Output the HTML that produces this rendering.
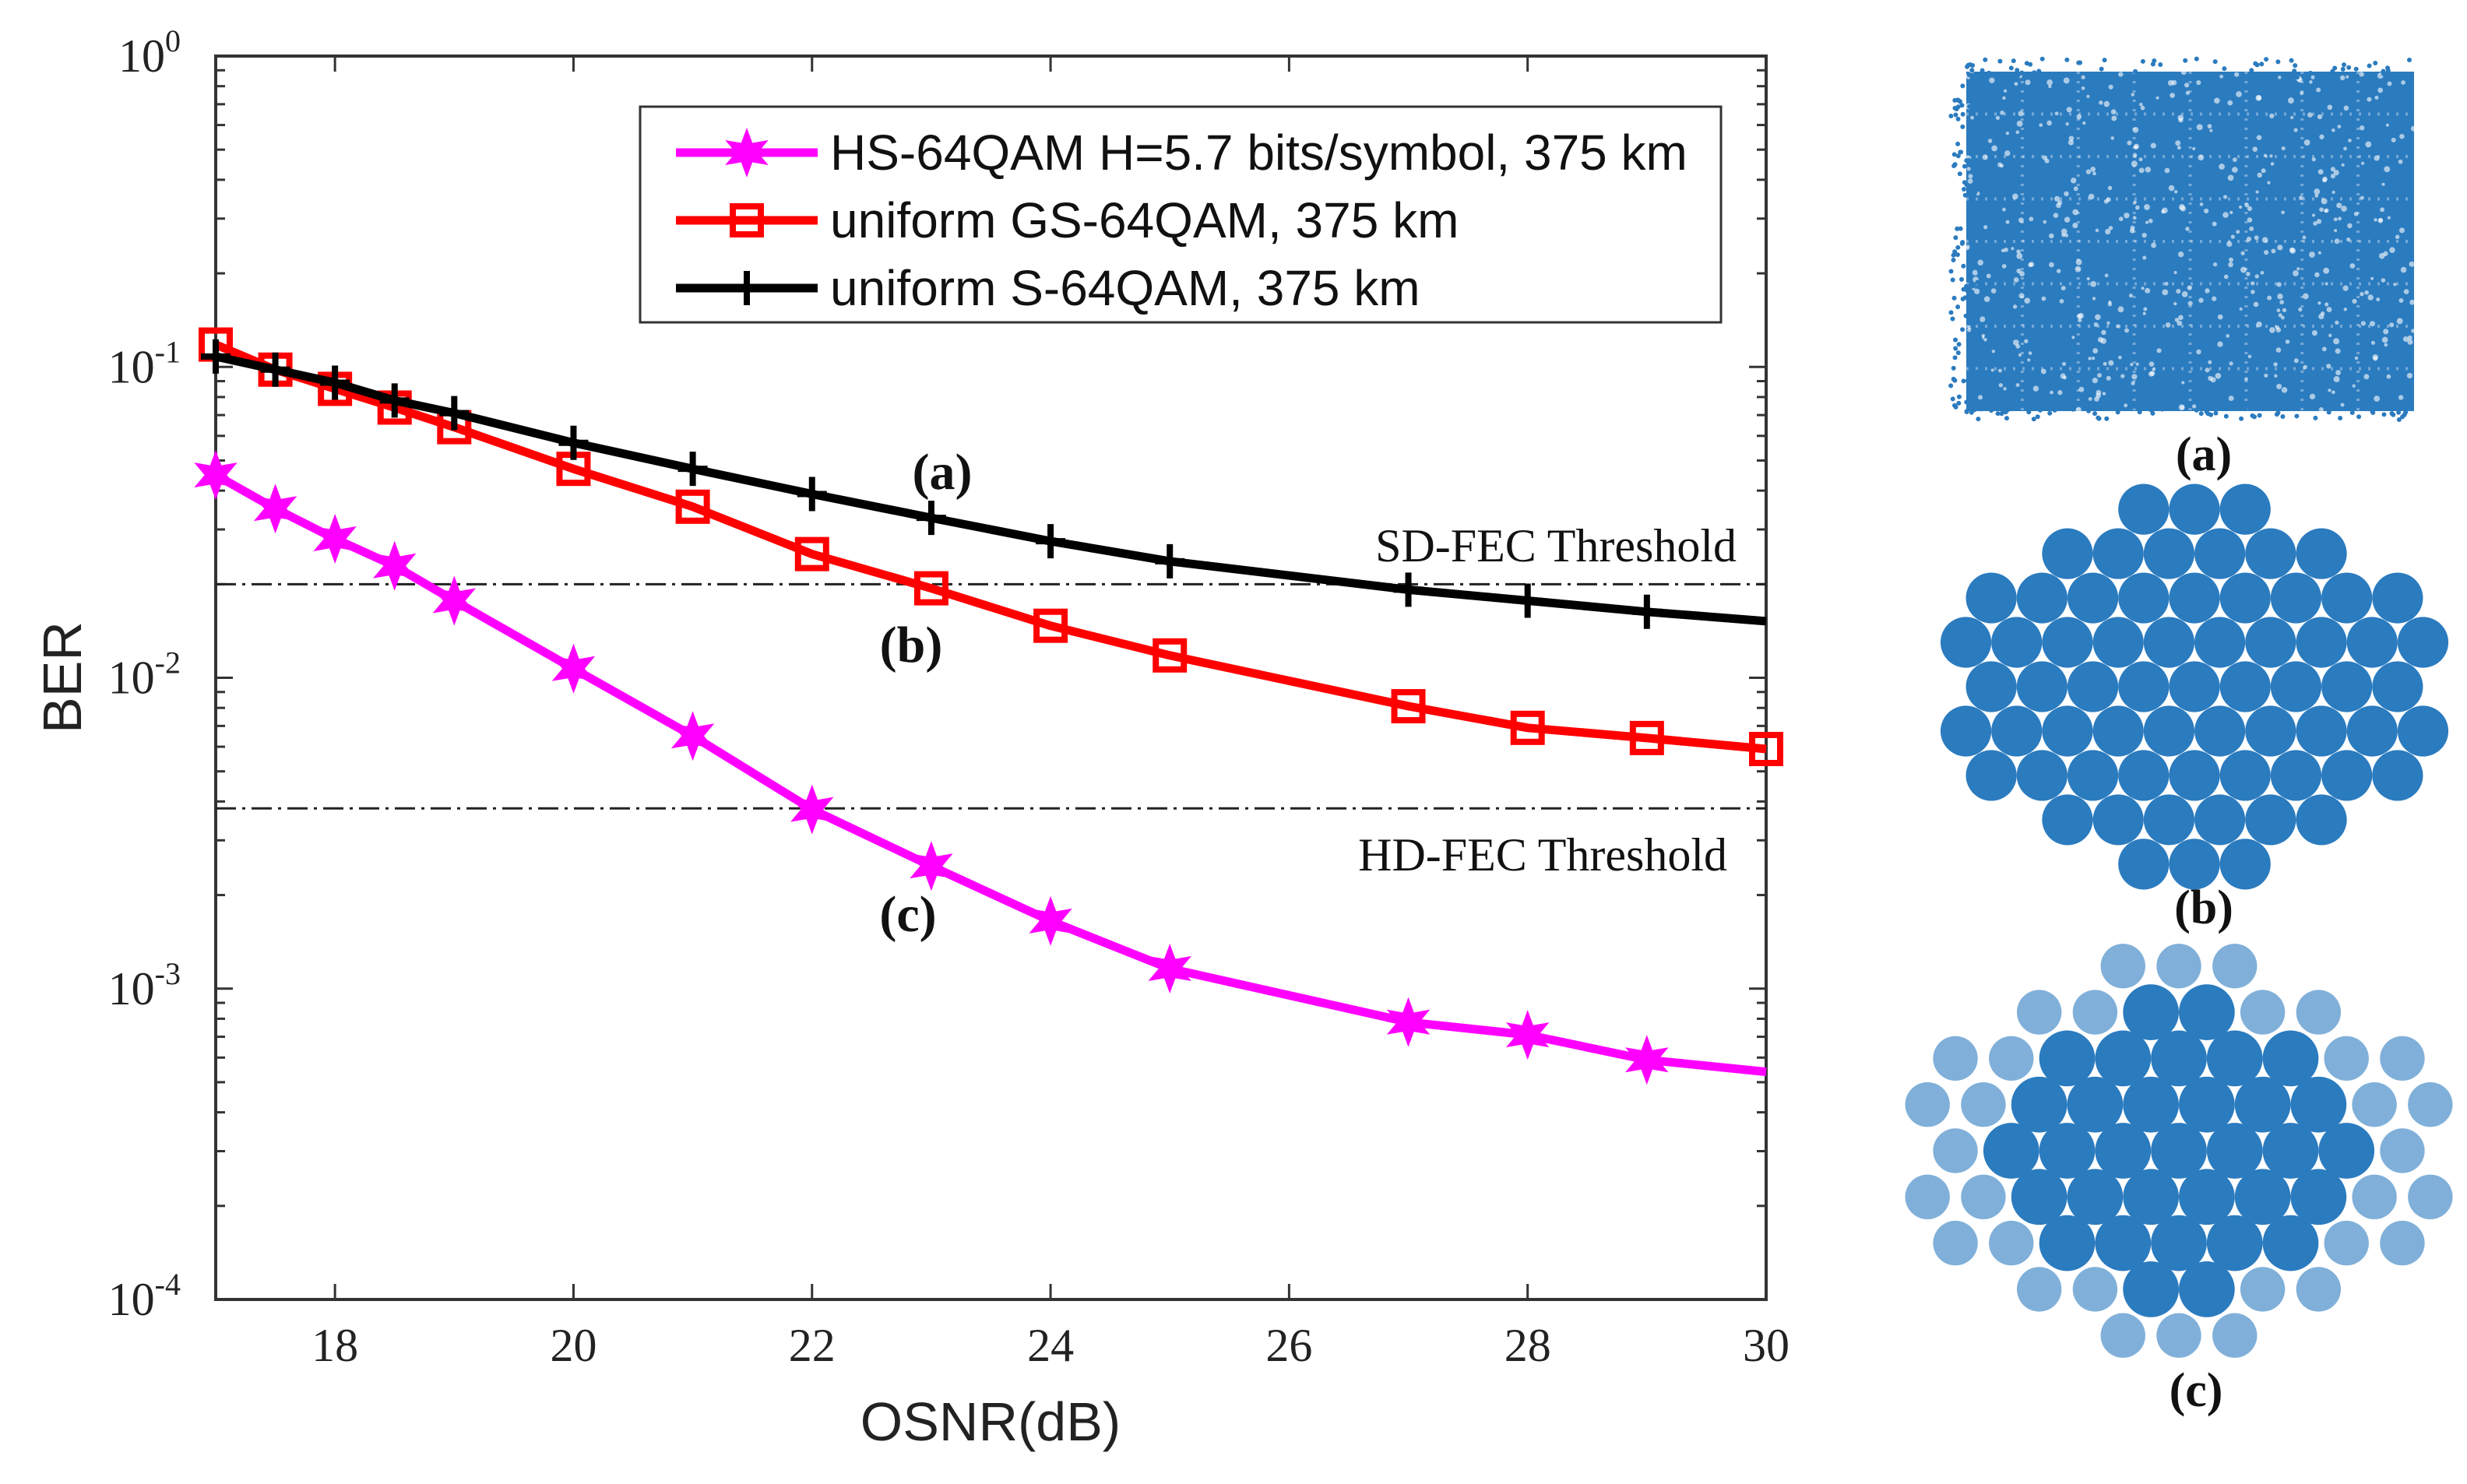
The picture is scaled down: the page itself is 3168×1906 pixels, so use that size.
<!DOCTYPE html>
<html><head><meta charset="utf-8"><style>
html,body{margin:0;padding:0;background:#fff;}
svg{display:block;}
</style></head><body>
<svg id="fig" width="3168" height="1906" viewBox="0 0 3168 1906" xmlns="http://www.w3.org/2000/svg">
<g id="chart"></g>
<g id="consts"></g>
</svg>
<script>
const osnr = [17,17.5,18,18.5,19,20,21,22,23,24,25,27,28,29,30];
const berHS = [0.0449,0.035,0.028,0.0229,0.0177,0.0107,0.0065,0.00377,0.00248,0.00165,0.00116,0.00078,0.00071,0.00059,0.00054];
const berGS = [0.118,0.098,0.085,0.074,0.064,0.047,0.0355,0.025,0.0194,0.0147,0.0118,0.0081,0.0069,0.0064,0.0059];
const berS = [0.108,0.098,0.089,0.078,0.071,0.057,0.047,0.039,0.0327,0.0275,0.0237,0.0192,0.0177,0.0163,0.0152];
const xTicks = [18,20,22,24,26,28,30];
const yDecades = [0,-1,-2,-3,-4];
const thresholds = [0.02,0.0038];

const NS='http://www.w3.org/2000/svg';
const L=277,R=2268,T=72,B=1669;
const X=v=>L+(v-17)/(30-17)*(R-L);
const Y=v=>T+(0-Math.log10(v))/4*(B-T);
function mk(tag,attrs,parent){const e=document.createElementNS(NS,tag);for(const k in attrs)e.setAttribute(k,attrs[k]);parent.appendChild(e);return e;}
const g=document.getElementById('chart');

const frame=mk('rect',{x:L,y:T,width:R-L,height:B-T,fill:'none',stroke:'#333',"stroke-width":4},g);



xTicks.forEach(t=>{
  const x=X(t);
  mk('line',{x1:x,y1:B,x2:x,y2:B-20,stroke:'#333','stroke-width':3},g);
  mk('line',{x1:x,y1:T,x2:x,y2:T+20,stroke:'#333','stroke-width':3},g);
  const tx=mk('text',{x:x,y:1748,'font-family':'Liberation Serif, serif','font-size':60,'text-anchor':'middle',fill:'#222'},g);
  tx.textContent=t;
  
  
});
yDecades.forEach(d=>{
  const y=Y(Math.pow(10,d));
  mk('line',{x1:L,y1:y,x2:L+22,y2:y,stroke:'#333','stroke-width':3},g);
  mk('line',{x1:R,y1:y,x2:R-22,y2:y,stroke:'#333','stroke-width':3},g);
  const tx=mk('text',{x:232,y:y+20,'font-family':'Liberation Serif, serif','font-size':60,'text-anchor':'end',fill:'#222'},g);
  tx.innerHTML='10<tspan dy="-26" font-size="40">'+d+'</tspan>';
  
  
  if(d>-4){for(let m=2;m<=9;m++){const ym=Y(m*Math.pow(10,d-1));
    mk('line',{x1:L,y1:ym,x2:L+12,y2:ym,stroke:'#333','stroke-width':3},g);
    mk('line',{x1:R,y1:ym,x2:R-12,y2:ym,stroke:'#333','stroke-width':3},g);}}
});
thresholds.forEach((v,i)=>{
  const ln=mk('line',{x1:L,y1:Y(v),x2:R,y2:Y(v),stroke:'#222','stroke-width':3,'stroke-dasharray':'26 8 4 8'},g);
  
  
});
function txt(s,x,y,attrs,name){const t=mk('text',Object.assign({'font-family':'Liberation Serif, serif',fill:'#111'},attrs),g);t.textContent=s;t.setAttribute('x',x);t.setAttribute('y',y);
  
  return t;}
txt('SD-FEC Threshold',2230,721,{'font-size':60,'text-anchor':'end'},'sd-fec-label');
txt('HD-FEC Threshold',2218,1118,{'font-size':60,'text-anchor':'end'},'hd-fec-label');
txt('(a)',1210,628,{'font-size':66,'font-weight':'bold','text-anchor':'middle'},'annotation-a');
txt('(b)',1170,850,{'font-size':66,'font-weight':'bold','text-anchor':'middle'},'annotation-b');
txt('(c)',1166,1196,{'font-size':66,'font-weight':'bold','text-anchor':'middle'},'annotation-c');
txt('OSNR(dB)',1272,1850,{'font-size':70,'text-anchor':'middle','font-family':'Liberation Sans, sans-serif',fill:'#222'},'x-axis-title');
txt('BER',0,0,{'font-size':70,'text-anchor':'middle','font-family':'Liberation Sans, sans-serif',fill:'#222',transform:'translate(104,870) rotate(-90)'},'y-axis-title');

function star(cx,cy,r,parent){let p='';for(let i=0;i<12;i++){const a=-Math.PI/2+i*Math.PI/6;const rr=i%2?r*0.45:r;p+=(i?'L':'M')+(cx+rr*Math.cos(a)).toFixed(1)+','+(cy+rr*Math.sin(a)).toFixed(1);}
  return mk('path',{d:p+'Z',fill:'#ff00ff'},parent);}
function series(vals,color,marker,name,lastMarker){
  const sg=mk('g',{},g);
  
  
  const pts=osnr.map((x,i)=>X(x).toFixed(1)+','+Y(vals[i]).toFixed(1)).join(' ');
  mk('polyline',{points:pts,fill:'none',stroke:color,'stroke-width':11,'stroke-linejoin':'round'},sg);
  osnr.forEach((x,i)=>{
    if(i==osnr.length-1&&!lastMarker)return;
    const cx=X(x),cy=Y(vals[i]);let m;
    if(marker=='star')m=star(cx,cy,32,sg);
    else if(marker=='square')m=mk('rect',{x:cx-18,y:cy-18,width:36,height:36,fill:'none',stroke:color,'stroke-width':8},sg);
    else m=mk('path',{d:`M${cx-19},${cy}H${cx+19}M${cx},${cy-22}V${cy+22}`,stroke:color,'stroke-width':8},sg);
    
    
  });
}
series(berHS,'#ff00ff','star','series-hs-64qam',false);
series(berGS,'#ff0000','square','series-uniform-gs-64qam',true);
series(berS,'#000','plus','series-uniform-s-64qam',false);

const lg=mk('g',{},g);


mk('rect',{x:822,y:137,width:1388,height:277,fill:'#fff',stroke:'#333','stroke-width':3},lg);
const legs=[['HS-64QAM H=5.7 bits/symbol, 375 km','#ff00ff','star'],['uniform GS-64QAM, 375 km','#ff0000','square'],['uniform S-64QAM, 375 km','#000','plus']];
legs.forEach((l,i)=>{
  const y=196+i*87;
  const eg=mk('g',{},lg);
  
  
  mk('line',{x1:868,y1:y,x2:1050,y2:y,stroke:l[1],'stroke-width':11},eg);
  const cx=959;
  if(l[2]=='star')star(cx,y,32,eg);
  else if(l[2]=='square')mk('rect',{x:cx-18,y:y-18,width:36,height:36,fill:'none',stroke:l[1],'stroke-width':8},eg);
  else mk('path',{d:`M${cx-19},${y}H${cx+19}M${cx},${y-22}V${y+22}`,stroke:l[1],'stroke-width':8},eg);
  const t=mk('text',{x:1066,y:y+22,'font-family':'Liberation Sans, sans-serif','font-size':64,fill:'#111'},eg);
  t.textContent=l[0];
});

const cg=document.getElementById('consts');
let seed=12345;const rnd=()=>{seed=(seed*1103515245+12345)%2147483648;return seed/2147483648;};
const blue='#2b7bbf';
const ga=mk('g',{},cg);


mk('rect',{x:2525,y:92,width:575,height:436,fill:blue},ga);
for(let k=1;k<8;k++){
  mk('line',{x1:2525+k*575/8,y1:92,x2:2525+k*575/8,y2:528,stroke:'#fff','stroke-width':4,opacity:0.35,'stroke-dasharray':'3 9'},ga);
  mk('line',{x1:2525,y1:92+k*436/8,x2:3100,y2:92+k*436/8,stroke:'#fff','stroke-width':4,opacity:0.35,'stroke-dasharray':'3 9'},ga);
}
for(let i=0;i<500;i++){mk('circle',{cx:2525+rnd()*575,cy:92+rnd()*436,r:2+rnd()*2,fill:'#fff',opacity:0.6},ga);}
for(let i=0;i<300;i++){const s=rnd()<0.5;mk('circle',{cx:s?2505+rnd()*40:2525+rnd()*575,cy:s?90+rnd()*440:(rnd()<0.5?75+rnd()*25:520+rnd()*20),r:3,fill:blue},ga);}
function blob(cx,cy,rx,ry,name,sparse){
  const gb=mk('g',{},cg);
  
  
  const sx=2*rx/9.2,sy=2*ry/8.6;
  for(let r=-4;r<=4;r++)for(let c=-5;c<=5;c++){
    const x=cx+(c+(r%2?0.5:0))*sx,y=cy+r*sy;
    const d=Math.pow((x-cx)/rx,2)+Math.pow((y-cy)/ry,2);
    if(d>1.05)continue;
    const op=sparse?(d>0.55?0.6:1):1;
    mk('circle',{cx:x,cy:y,r:sx*0.5*(sparse&&d>0.55?0.8:1),fill:blue,opacity:op},gb);
  }
}
blob(2818,882,300,245,'constellation-b',false);
blob(2798,1478,330,255,'constellation-c',true);
[['(a)',2830,604],['(b)',2830,1186],['(c)',2820,1806]].forEach(l=>{
  const t=mk('text',{x:l[1],y:l[2],'font-family':'Liberation Serif, serif','font-size':62,'font-weight':'bold','text-anchor':'middle',fill:'#111'},cg);
  t.textContent=l[0];
  
  
});
</script>
</body></html>
